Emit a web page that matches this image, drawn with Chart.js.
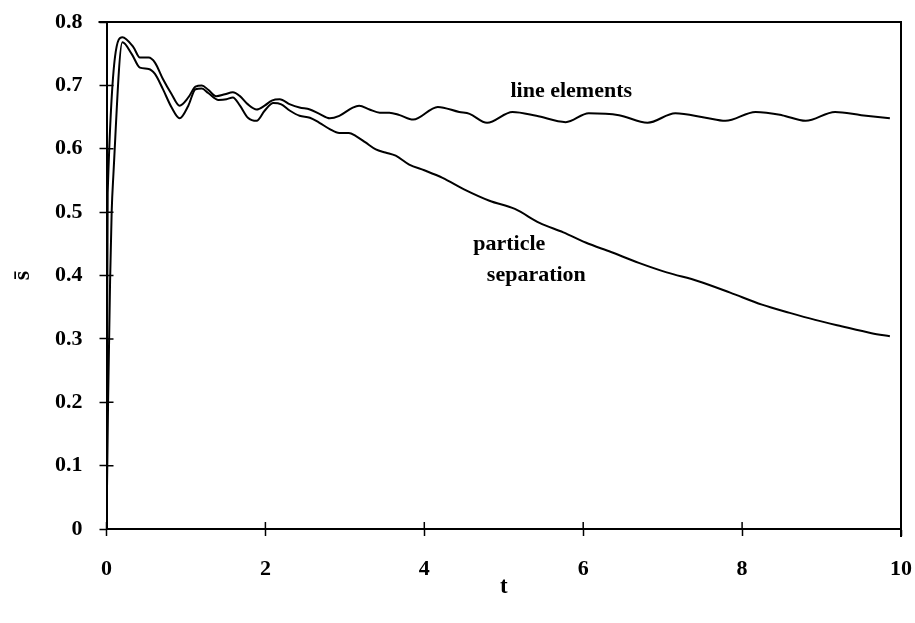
<!DOCTYPE html>
<html>
<head>
  <meta charset="UTF-8">
  <title>s vs t</title>
  <script src="https://cdn.jsdelivr.net/npm/chart.js"></script>
  <style>
    html, body { margin: 0; padding: 0; background: #fff; }
    #wrap { width: 915px; height: 623px; }
  </style>
</head>
<body>
  <div id="wrap"><canvas id="chart" width="915" height="623"></canvas></div>

  <script>
    // courbe "line elements"
    const tLine = [0, 0.015, 0.2, 0.34, 0.42, 0.53, 0.61, 0.71, 0.82, 0.92, 1.03, 1.12, 1.2, 1.28, 1.38, 1.49, 1.59, 1.68, 1.78, 1.89, 1.99, 2.08, 2.18, 2.31, 2.43, 2.56, 2.68, 2.81, 2.93, 3.1, 3.18, 3.31, 3.44, 3.56, 3.69, 3.86, 4.17, 4.44, 4.57, 4.79, 5.11, 5.41, 5.78, 6.07, 6.45, 6.81, 7.16, 7.54, 7.79, 8.17, 8.5, 8.8, 9.17, 9.5, 9.86];
    const sLine = [0, 0.53, 0.776, 0.760, 0.744, 0.744, 0.736, 0.710, 0.686, 0.668, 0.681, 0.698, 0.700, 0.693, 0.683, 0.686, 0.689, 0.683, 0.670, 0.662, 0.668, 0.676, 0.678, 0.670, 0.665, 0.662, 0.655, 0.648, 0.652, 0.665, 0.668, 0.662, 0.657, 0.657, 0.653, 0.646, 0.666, 0.658, 0.655, 0.641, 0.658, 0.652, 0.642, 0.656, 0.653, 0.641, 0.656, 0.649, 0.644, 0.658, 0.653, 0.644, 0.658, 0.653, 0.648];

    // courbe "particle separation"
    const tPart = [0, 0.02, 0.045, 0.065, 0.085, 0.2, 0.32, 0.42, 0.53, 0.61, 0.71, 0.82, 0.92, 1.03, 1.12, 1.2, 1.28, 1.41, 1.51, 1.59, 1.68, 1.78, 1.89, 1.99, 2.1, 2.2, 2.31, 2.43, 2.56, 2.68, 2.81, 2.93, 3.05, 3.14, 3.26, 3.39, 3.51, 3.64, 3.81, 4.0, 4.23, 4.5, 4.82, 5.14, 5.45, 5.75, 6.03, 6.35, 6.7, 7.05, 7.45, 7.85, 8.25, 8.6, 8.92, 9.25, 9.63, 9.86];
    const sPart = [0, 0.2, 0.39, 0.5, 0.555, 0.768, 0.749, 0.728, 0.726, 0.718, 0.694, 0.665, 0.648, 0.668, 0.694, 0.695, 0.688, 0.677, 0.678, 0.681, 0.668, 0.649, 0.644, 0.660, 0.672, 0.670, 0.660, 0.652, 0.649, 0.641, 0.631, 0.625, 0.625, 0.620, 0.610, 0.599, 0.594, 0.589, 0.575, 0.566, 0.554, 0.536, 0.518, 0.505, 0.483, 0.468, 0.452, 0.437, 0.420, 0.405, 0.391, 0.373, 0.354, 0.341, 0.330, 0.320, 0.309, 0.304];

    // étiquettes posées dans le graphe (coordonnées en unités des axes)
    const labelTexts = ['line elements', 'particle', 'separation'];
    const labelT = [5.85, 5.07, 5.41];
    const labelS = [0.691, 0.449, 0.400];

    const serif = '"Liberation Serif", "DejaVu Serif", serif';

    const toPoints = (xs, ys) => xs.map((x, i) => ({ x: x, y: ys[i] }));

    // cadre + graduations qui traversent les axes + textes
    const cadre = {
      id: 'cadre',
      afterDraw(chart) {
        const ctx = chart.ctx;
        const a = chart.chartArea;
        const xs = chart.scales.x, ys = chart.scales.y;
        ctx.save();
        ctx.strokeStyle = '#000';
        ctx.lineWidth = 2;
        ctx.beginPath();
        ctx.moveTo(a.left - 8, a.top);
        ctx.lineTo(a.right, a.top);
        ctx.lineTo(a.right, a.bottom + 8);
        ctx.stroke();
        ctx.lineWidth = 1.5;
        ctx.beginPath();
        xs.ticks.forEach(tk => {
          const px = xs.getPixelForValue(tk.value);
          ctx.moveTo(px, a.bottom);
          ctx.lineTo(px, a.bottom - 7);
        });
        ys.ticks.forEach(tk => {
          const py = ys.getPixelForValue(tk.value);
          ctx.moveTo(a.left, py);
          ctx.lineTo(a.left + 7, py);
        });
        ctx.stroke();

        ctx.fillStyle = '#000';
        ctx.font = 'bold 22px ' + serif;
        ctx.textAlign = 'center';
        ctx.textBaseline = 'middle';
        labelTexts.forEach((txt, i) => {
          ctx.fillText(txt, xs.getPixelForValue(labelT[i]), ys.getPixelForValue(labelS[i]));
        });
        ctx.restore();
      }
    };

    const ctx = document.getElementById('chart').getContext('2d');
    new Chart(ctx, {
      type: 'scatter',
      data: {
        datasets: [
          {
            label: 'line elements',
            data: toPoints(tLine, sLine),
            showLine: true,
            borderColor: '#000',
            borderWidth: 2,
            pointRadius: 0,
            cubicInterpolationMode: 'monotone'
          },
          {
            label: 'particle separation',
            data: toPoints(tPart, sPart),
            showLine: true,
            borderColor: '#000',
            borderWidth: 2,
            pointRadius: 0,
            cubicInterpolationMode: 'monotone'
          }
        ]
      },
      plugins: [cadre],
      options: {
        responsive: false,
        animation: false,
        layout: { padding: { top: 22, right: 14, left: 0, bottom: 0 } },
        plugins: {
          legend: { display: false },
          tooltip: { enabled: false }
        },
        scales: {
          x: {
            type: 'linear',
            min: 0,
            max: 10,
            afterFit(scale) {
              scale.height = 94;
              scale.paddingLeft = 0;
              scale.paddingRight = 0;
            },
            grid: { drawOnChartArea: false, color: '#000', tickLength: 7, tickWidth: 1.5 },
            border: { color: '#000', width: 2 },
            ticks: {
              stepSize: 2,
              color: '#000',
              padding: 20,
              maxRotation: 0,
              font: { family: serif, size: 22, weight: 'bold' }
            },
            title: {
              display: true,
              text: 't',
              color: '#000',
              padding: { top: 0, bottom: 22 },
              font: { family: serif, size: 23, weight: 'bold' }
            }
          },
          y: {
            min: 0,
            max: 0.8,
            afterFit(scale) {
              scale.width = 106.5;
              scale.paddingTop = 0;
              scale.paddingBottom = 0;
            },
            grid: { drawOnChartArea: false, color: '#000', tickLength: 7, tickWidth: 1.5 },
            border: { color: '#000', width: 2 },
            ticks: {
              stepSize: 0.1,
              color: '#000',
              padding: 17,
              font: { family: serif, size: 22, weight: 'bold' }
            },
            title: {
              display: true,
              text: 's\u0304',
              color: '#000',
              padding: { top: 8, bottom: 0 },
              font: { family: serif, size: 24, weight: 'bold' }
            }
          }
        }
      }
    });
  </script>
</body>
</html>
